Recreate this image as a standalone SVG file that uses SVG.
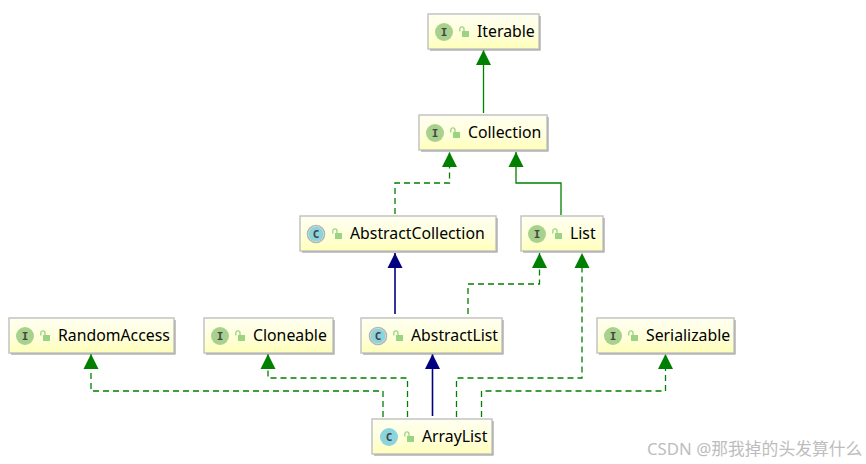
<svg xmlns="http://www.w3.org/2000/svg" width="866" height="464" viewBox="0 0 866 464">
<style>
.box{fill:url(#nodeFill);stroke:#c4c4c4;stroke-width:1.5}
.shadow{fill:#8c8c8c}
.label{font-family:"Noto Sans","DejaVu Sans",sans-serif;font-size:15.800px;fill:#000}
.iconI{fill:#a9d18e}
.iconC{fill:#8bd3dd}
.letter{font-family:"DejaVu Sans Mono","Liberation Mono",monospace;font-size:11px;font-weight:bold;fill:#444;text-anchor:middle}
.abs{fill:none;stroke:#b4b4b4;stroke-width:1.6}
.lockb{fill:#9ad483}
.locks{fill:none;stroke:#9ad483;stroke-width:1.3}
.g{fill:none;stroke:#008000;stroke-width:1.3}
.d{stroke-dasharray:6 4}
.b{fill:none;stroke:#000080;stroke-width:1.6}
.wm{font-family:"Noto Sans","Noto Sans CJK SC",sans-serif;font-size:16.800px;fill:#bdbdbd}
</style>
<defs>
<linearGradient id="nodeFill" x1="0" y1="0" x2="0" y2="1"><stop offset="0" stop-color="#fffff0"/><stop offset="0.55" stop-color="#ffffdc"/><stop offset="1" stop-color="#ffffb8"/></linearGradient>
<marker id="ag" markerUnits="userSpaceOnUse" markerWidth="16" markerHeight="16" refX="7.5" refY="0.5" orient="0" viewBox="0 0 15 16" overflow="visible"><path d="M0 15.5L7.5 0.5L15 15.5Z" fill="#008000"/></marker>
<marker id="ab" markerUnits="userSpaceOnUse" markerWidth="16" markerHeight="16" refX="7.5" refY="0.5" orient="0" viewBox="0 0 15 16" overflow="visible"><path d="M0 15.5L7.5 0.5L15 15.5Z" fill="#000080"/></marker>
<g id="lock"><rect x="3" y="4" width="7" height="6" class="lockb"/><path d="M0.8 4.500V2A2.100 2.100 0 0 1 5 2V4.500" class="locks"/></g>
</defs>
<rect width="866" height="464" fill="#fff"/>
<g id="connectors">
<path class="g" d="M483.500 113V50" marker-end="url(#ag)"/>
<path class="g d" d="M395 214V183H449.500V152" marker-end="url(#ag)"/>
<path class="g" d="M561 215V183H516V152" marker-end="url(#ag)"/>
<path class="b" d="M395 314V253" marker-end="url(#ab)"/>
<path class="g d" d="M468 314V284H539.500V253" marker-end="url(#ag)"/>
<path class="b" d="M432.500 416V354" marker-end="url(#ab)"/>
<path class="g d" d="M383 417V391H91V354" marker-end="url(#ag)"/>
<path class="g d" d="M407.500 417V378H268V354" marker-end="url(#ag)"/>
<path class="g d" d="M456.500 417V378H582V253" marker-end="url(#ag)"/>
<path class="g d" d="M481.500 417V391H665.500V354" marker-end="url(#ag)"/>
</g>
<g id="Iterable"><rect class="shadow" x="430" y="16" width="110.500" height="34.500"/><rect class="box" x="428" y="14" width="111" height="35"/><circle class="iconI" cx="444" cy="32" r="9"/><text class="letter" x="444" y="36">I</text><use href="#lock" x="459" y="27"/><text class="label" x="477" y="37">Iterable</text></g>
<g id="Collection"><rect class="shadow" x="421" y="117" width="127.500" height="34.500"/><rect class="box" x="419" y="115" width="128" height="35"/><circle class="iconI" cx="435" cy="133" r="9"/><text class="letter" x="435" y="137">I</text><use href="#lock" x="450" y="128"/><text class="label" x="468" y="138">Collection</text></g>
<g id="AbstractCollection"><rect class="shadow" x="302" y="218" width="195.500" height="34.500"/><rect class="box" x="300" y="216" width="196" height="35"/><circle class="abs" cx="316" cy="234" r="8.500"/><circle class="iconC" cx="316" cy="234" r="7.500"/><text class="letter" x="316" y="238">C</text><use href="#lock" x="332" y="229"/><text class="label" x="350" y="239">AbstractCollection</text></g>
<g id="List"><rect class="shadow" x="523" y="218" width="81.500" height="34.500"/><rect class="box" x="521" y="216" width="82" height="35"/><circle class="iconI" cx="537" cy="234" r="9"/><text class="letter" x="537" y="238">I</text><use href="#lock" x="552" y="229"/><text class="label" x="570" y="239">List</text></g>
<g id="RandomAccess"><rect class="shadow" x="11" y="320" width="164.500" height="34.500"/><rect class="box" x="9" y="318" width="165" height="35"/><circle class="iconI" cx="25" cy="336" r="9"/><text class="letter" x="25" y="340">I</text><use href="#lock" x="40" y="331"/><text class="label" x="58" y="341">RandomAccess</text></g>
<g id="Cloneable"><rect class="shadow" x="206" y="320" width="128.500" height="34.500"/><rect class="box" x="204" y="318" width="129" height="35"/><circle class="iconI" cx="220" cy="336" r="9"/><text class="letter" x="220" y="340">I</text><use href="#lock" x="235" y="331"/><text class="label" x="253" y="341">Cloneable</text></g>
<g id="AbstractList"><rect class="shadow" x="363" y="320" width="140.500" height="34.500"/><rect class="box" x="361" y="318" width="141" height="35"/><circle class="abs" cx="378" cy="336" r="8.500"/><circle class="iconC" cx="378" cy="336" r="7.500"/><text class="letter" x="378" y="340">C</text><use href="#lock" x="393" y="331"/><text class="label" x="411" y="341">AbstractList</text></g>
<g id="Serializable"><rect class="shadow" x="599" y="320" width="136.500" height="34.500"/><rect class="box" x="597" y="318" width="137" height="35"/><circle class="iconI" cx="613" cy="336" r="9"/><text class="letter" x="613" y="340">I</text><use href="#lock" x="628" y="331"/><text class="label" x="646" y="341">Serializable</text></g>
<g id="ArrayList"><rect class="shadow" x="374" y="421" width="119.500" height="34.500"/><rect class="box" x="372" y="419" width="120" height="35"/><circle class="iconC" cx="389" cy="437" r="9"/><text class="letter" x="389" y="441">C</text><use href="#lock" x="404" y="432"/><text class="label" x="422" y="442">ArrayList</text></g>
<text class="wm" x="647" y="455">CSDN @那我掉的头发算什么</text>
</svg>
